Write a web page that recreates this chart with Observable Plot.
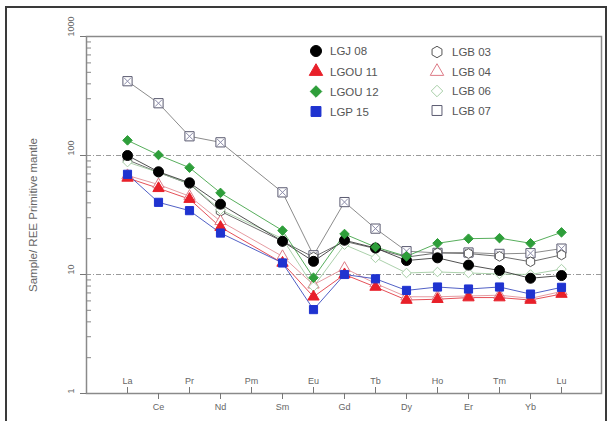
<!DOCTYPE html>
<html><head><meta charset="utf-8">
<script src="https://cdn.jsdelivr.net/npm/d3@7"></script>
<script src="https://cdn.jsdelivr.net/npm/@observablehq/plot@0.6"></script>
<style>
html,body{margin:0;padding:0;background:#fff;}
#chart{position:relative;width:612px;height:421px;overflow:hidden;background:#fff;}
#border{position:absolute;left:5px;top:6px;width:602px;height:440px;border:2px solid #3a3a3a;box-sizing:border-box;pointer-events:none;}
</style></head><body>
<div id="chart"><div id="border"></div></div>
<script>
// ---- data ----
const elements = ["La","Ce","Pr","Nd","Pm","Sm","Eu","Gd","Tb","Dy","Ho","Er","Tm","Yb","Lu"];
const upperLabels = ["La","Pr","Pm","Eu","Tb","Ho","Tm","Lu"];
const lowerLabels = ["Ce","Nd","Sm","Gd","Dy","Er","Yb"];
const yMajor = [1, 10, 100, 1000];
const yMinor = [2,3,4,5,6,7,8,9,20,30,40,50,60,70,80,90,200,300,400,500,600,700,800,900];
const gridValues = [10, 100];
const seriesNames = ["LGB 07","LGB 03","LGB 04","LGB 06","LGJ 08","LGOU 11","LGOU 12","LGP 15"];
const LGJ08  = [100, 73, 59, 39, null, 19, 12.9, 19.4, 16.7, 13.1, 13.8, 12.0, 10.8, 9.3, 9.8];
const LGOU11 = [64.8, 53, 43, 25, null, 12.5, 6.5, 10, 7.85, 6.1, 6.2, 6.4, 6.4, 6.1, 6.85];
const LGOU12 = [134, 101, 79, 48.5, null, 23.4, 9.4, 21.9, 17, 14.2, 18.3, 20.0, 20.2, 18.3, 22.6];
const LGP15  = [69.5, 40.4, 34.4, 22.3, null, 12.5, 5.07, 10, 9.2, 7.35, 7.85, 7.55, 7.85, 6.85, 7.8];
const LGB03  = [92, 72, 57.6, 34, null, 19, 14, 19, 16.5, 14, 15.2, 15, 14.2, 12.8, 14.6];
const LGB04  = [68, 57, 45.5, 28, null, 14.2, 8.2, 11.3, 8.4, 6.5, 6.5, 6.6, 6.7, 6.3, 7.2];
const LGB06  = [88, 72, 58, 35, null, 20, 7.9, 17.8, 13.8, 10.3, 10.5, 10.3, 10.1, 10, 11.1];
const LGB07  = [421, 275, 145, 129, null, 49, 14.5, 40.6, 24.3, 15.7, 15.2, 15.3, 14.9, 15.1, 16.5];
const seriesValues = [LGB07, LGB03, LGB04, LGB06, LGJ08, LGOU11, LGOU12, LGP15];

// ---- styles ----
const hexagon = {
  draw(ctx, size) {
    const R = Math.sqrt(size / (1.5 * Math.sqrt(3)));
    for (let i = 0; i < 6; ++i) {
      const a = Math.PI / 3 * i - Math.PI / 2;
      const px = R * Math.cos(a), py = R * Math.sin(a);
      if (i === 0) ctx.moveTo(px, py); else ctx.lineTo(px, py);
    }
    ctx.closePath();
  }
};
const styles = {
  "LGJ 08":  {line:"#333333", symbol:"circle",   fill:"#000000", stroke:"#000000", r:5},
  "LGOU 11": {line:"#e0303a", symbol:"triangle", fill:"#e8202a", stroke:"#e8202a", r:4.2},
  "LGOU 12": {line:"#3aa040", symbol:"diamond2", fill:"#2e9e3a", stroke:"#2e9e3a", r:4.3},
  "LGP 15":  {line:"#3344bb", symbol:"square",   fill:"#1f33d0", stroke:"#1f33d0", r:4.6},
  "LGB 03":  {line:"#555555", symbol:hexagon,    fill:"#ffffff", stroke:"#555555", r:4.4},
  "LGB 04":  {line:"#e08a90", symbol:"triangle", fill:"#ffffff", stroke:"#dd7a86", r:4.2},
  "LGB 06":  {line:"#9cc89c", symbol:"diamond2", fill:"#ffffff", stroke:"#a8cfa8", r:4.3},
  "LGB 07":  {line:"#777777", symbol:"square",   fill:"#ffffff", stroke:"#5a5a70", r:5.2}
};

const rows = [];
seriesNames.forEach((s, i) => {
  seriesValues[i].forEach((v, j) => { if (v != null) rows.push({series: s, el: elements[j], v}); });
});

const txt = {fontSize: 9, fill: "#666"};
const marks = [
  Plot.ruleY(gridValues, {stroke: "#9a9a9a", strokeDasharray: "5,2,1,2", strokeWidth: 1}),
  Plot.frame({stroke: "#8a8a8a", strokeWidth: 1.5}),
  Plot.axisY({ticks: yMajor, tickSize: 6, tickFormat: () => "", stroke: "#777", label: null}),
  Plot.axisY({ticks: yMinor, tickSize: -5, tickFormat: () => "", stroke: "#888", label: null}),
  Plot.text(yMajor, {y: d => d, frameAnchor: "left", dx: -15, rotate: -90, text: d => String(d), ...txt}),
  Plot.axisX({ticks: upperLabels, tickSize: -6, tickFormat: () => "", stroke: "#777", label: null}),
  Plot.axisX({ticks: lowerLabels, tickSize: 6, tickFormat: () => "", stroke: "#777", label: null}),
  Plot.text(upperLabels, {x: d => d, frameAnchor: "bottom", dy: -10, text: d => d, ...txt}),
  Plot.text(lowerLabels, {x: d => d, frameAnchor: "bottom", dy: 16, text: d => d, ...txt})
];
seriesNames.forEach(s => {
  const st = styles[s];
  const data = rows.filter(d => d.series === s);
  marks.push(Plot.line(data, {x: "el", y: "v", stroke: st.line, strokeWidth: 1, strokeOpacity: 0.85}));
});
seriesNames.forEach(s => {
  const st = styles[s];
  const data = rows.filter(d => d.series === s);
  marks.push(Plot.dot(data, {x: "el", y: "v", symbol: st.symbol, r: st.r, fill: st.fill, stroke: st.stroke, strokeWidth: 1}));
  if (s === "LGB 07") marks.push(Plot.dot(data, {x: "el", y: "v", symbol: "times", r: 3.2, stroke: "#8a8aa8", strokeWidth: 1}));
});

const chart = Plot.plot({
  width: 612, height: 421,
  marginLeft: 86, marginRight: 11, marginTop: 36, marginBottom: 28,
  x: {type: "point", domain: elements, insetLeft: 20, insetRight: 19},
  y: {type: "log", domain: [1, 1000]},
  style: {fontFamily: "'Liberation Sans', Arial, sans-serif", background: "transparent", overflow: "visible"},
  marks
});
chart.style.position = "absolute";
chart.style.left = "0px";
chart.style.top = "0px";
document.getElementById("chart").appendChild(chart);

// ---- axis title & legend ----
const svg = d3.select(chart);
svg.append("text")
  .attr("transform", "translate(37,215) rotate(-90)")
  .attr("text-anchor", "middle")
  .attr("font-size", 11.5)
  .attr("fill", "#666")
  .text("Sample/ REE Primitive mantle");

const legendCols = [
  {names: ["LGJ 08","LGOU 11","LGOU 12","LGP 15"], sx: 316, tx: 330, ys: [51, 71.5, 91.5, 111.5]},
  {names: ["LGB 03","LGB 04","LGB 06","LGB 07"], sx: 437, tx: 452, ys: [52, 71.5, 91, 110.5]}
];
const symMap = {circle: d3.symbolCircle, triangle: d3.symbolTriangle, diamond2: d3.symbolDiamond2, square: d3.symbolSquare};
const legendR = {circle: 5.5, triangle: 5, diamond2: 5.2, square: 5.6};
const lg = svg.append("g").attr("font-size", 11.5).attr("fill", "#555").attr("text-anchor", "start");
legendCols.forEach(col => {
  col.names.forEach((n, i) => {
    const st = styles[n];
    const isStr = typeof st.symbol === "string";
    const type = isStr ? symMap[st.symbol] : st.symbol;
    const rr = isStr ? legendR[st.symbol] : 5.2;
    lg.append("path")
      .attr("d", d3.symbol().type(type).size(Math.PI * rr * rr)())
      .attr("transform", `translate(${col.sx},${col.ys[i]})`)
      .attr("fill", st.fill).attr("stroke", st.stroke).attr("stroke-width", 1);
    lg.append("text").attr("x", col.tx).attr("y", col.ys[i]).attr("dy", "0.35em").text(n);
  });
});
</script>
</body></html>
